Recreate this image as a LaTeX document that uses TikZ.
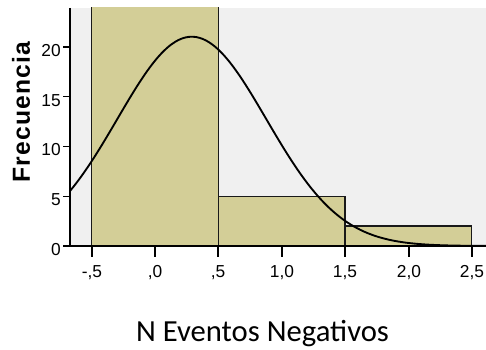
\documentclass[tikz,border=0pt]{standalone}
\usepackage{fontspec}
\setsansfont{Liberation Sans}
\newfontfamily\titlefont{Carlito}
\newfontfamily\ytitlefont[LetterSpace=5]{Liberation Sans}
\usepackage{xcolor}
\usetikzlibrary{positioning}
\definecolor{barfill}{RGB}{211,206,151}
\definecolor{plotbg}{RGB}{240,240,240}

\begin{document}
\begin{tikzpicture}[x=0.75pt,y=0.75pt]
  \tikzstyle{bar}=[fill=barfill,draw=black!90,line width=1.1pt]
  \tikzstyle{axis}=[draw=black,line width=1.4pt]
  \tikzstyle{ticklabel}=[font=\sffamily\fontsize{13}{13}\selectfont,inner sep=0pt]
  \useasboundingbox (0,0) rectangle (486,350);
  \fill[plotbg] (70,104) rectangle (486,342);

  % histogram and normal curve, in data units
  \begin{scope}[shift={(155,104)},x=95pt,y=7.4625pt]
    \clip (-0.671,-1) rectangle (2.62,23.92);
    \draw[bar] (-0.5,0) rectangle (0.5,26);
    \draw[bar] (0.5,0) rectangle (1.5,5);
    \draw[bar] (1.5,0) rectangle (2.5,2);
    \draw[line width=1.4pt,domain=-0.671:2.62,samples=120,smooth]
      plot (\x,{21.03*exp(-(\x-0.2903)^2/0.6915)});
  \end{scope}

  \draw[axis] (70,342) -- (70,104) -- (486,104);

  \foreach \f in {0,5,10,15,20} {
    \draw[axis,line width=1pt] (63,104+9.95*\f) -- (70,104+9.95*\f);
    \node[ticklabel,anchor=east] (y\f) at (61,100.5+9.95*\f) {\f};
  }
  \foreach \px/\t/\n in {92/{-,5}/a,155/{,0}/b,218/{,5}/c,282/{1,0}/d,345/{1,5}/e,409/{2,0}/f,472/{2,5}/g} {
    \draw[axis,line width=1pt] (\px,104) -- (\px,93);
    \node[ticklabel] (x\n) at (\px,77) {\t};
  }

  \node[rotate=90,inner sep=0pt,font=\ytitlefont\bfseries\fontsize{18.5}{18.5}\selectfont] (ytitle) at (21,238) {Frecuencia};
  \node[anchor=base,inner sep=0pt,font=\titlefont\fontsize{23}{23}\selectfont] (xtitle) at (262.5,8) {N Eventos Negativos};
\end{tikzpicture}
\end{document}
